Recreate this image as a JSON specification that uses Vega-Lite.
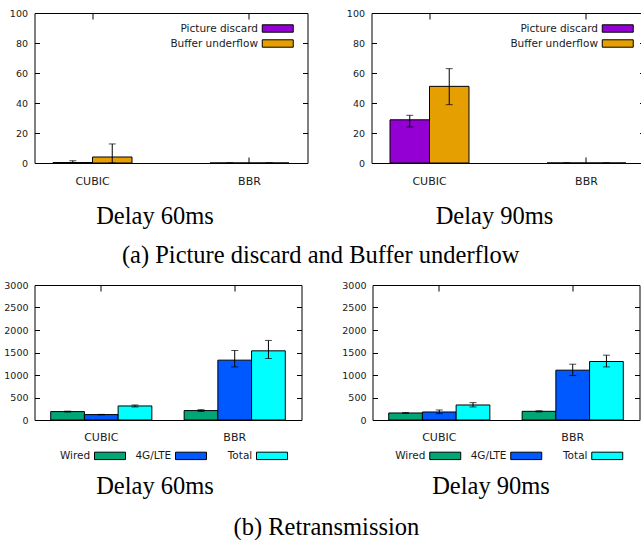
{
  "$schema": "https://vega.github.io/schema/vega-lite/v6.json",
  "padding": {"left": 2.5, "top": 7, "right": 0, "bottom": 0},
  "background": "white",
  "datasets": {
    "top60": [
      {"proto": "CUBIC", "metric": "Picture discard", "v": 0.3, "lo": 0, "hi": 1.5},
      {"proto": "CUBIC", "metric": "Buffer underflow", "v": 4, "lo": 0, "hi": 12.7},
      {"proto": "BBR", "metric": "Picture discard", "v": 0, "lo": 0, "hi": 0},
      {"proto": "BBR", "metric": "Buffer underflow", "v": 0, "lo": 0, "hi": 0}
    ],
    "top90": [
      {"proto": "CUBIC", "metric": "Picture discard", "v": 28.8, "lo": 24, "hi": 31.8},
      {"proto": "CUBIC", "metric": "Buffer underflow", "v": 51.1, "lo": 38.9, "hi": 62.9},
      {"proto": "BBR", "metric": "Picture discard", "v": 0, "lo": 0, "hi": 0},
      {"proto": "BBR", "metric": "Buffer underflow", "v": 0, "lo": 0, "hi": 0}
    ],
    "bot60": [
      {"proto": "CUBIC", "link": "Wired", "v": 187, "lo": 177, "hi": 197},
      {"proto": "CUBIC", "link": "4G/LTE", "v": 120, "lo": 115, "hi": 125},
      {"proto": "CUBIC", "link": "Total", "v": 312, "lo": 290, "hi": 334},
      {"proto": "BBR", "link": "Wired", "v": 209, "lo": 190, "hi": 230},
      {"proto": "BBR", "link": "4G/LTE", "v": 1330, "lo": 1180, "hi": 1545},
      {"proto": "BBR", "link": "Total", "v": 1537, "lo": 1367, "hi": 1768}
    ],
    "bot90": [
      {"proto": "CUBIC", "link": "Wired", "v": 156, "lo": 148, "hi": 164},
      {"proto": "CUBIC", "link": "4G/LTE", "v": 178, "lo": 141, "hi": 223},
      {"proto": "CUBIC", "link": "Total", "v": 334, "lo": 290, "hi": 386},
      {"proto": "BBR", "link": "Wired", "v": 193, "lo": 180, "hi": 206},
      {"proto": "BBR", "link": "4G/LTE", "v": 1107, "lo": 988, "hi": 1240},
      {"proto": "BBR", "link": "Total", "v": 1300, "lo": 1180, "hi": 1441}
    ]
  },
  "resolve": {"scale": {"color": "independent", "x": "independent", "y": "independent", "xOffset": "independent"}, "legend": {"color": "independent"}},
  "columns": 1,
  "align": "none",
  "spacing": 11,
  "concat": [
    {
      "spacing": 37,
      "resolve": {"scale": {"color": "independent", "x": "independent", "y": "independent", "xOffset": "independent"}, "legend": {"color": "independent"}},
      "title": {"text": "(a) Picture discard and Buffer underflow", "orient": "bottom", "anchor": "middle", "dx": -6.5, "offset": 16, "font": "Liberation Serif", "fontSize": 24.5, "fontWeight": "normal", "color": "black"},
      "hconcat": [
        {
          "width": 273, "height": 150,
          "data": {"name": "top60"},
          "resolve": {"axis": {"x": "independent", "y": "independent"}},
          "layer": [
            {
              "mark": {"type": "bar", "stroke": "black", "strokeWidth": 1},
              "encoding": {
                "x": {"field": "proto", "type": "nominal", "sort": ["CUBIC", "BBR"], "scale": {"paddingInner": 0.497, "paddingOuter": 0.118},
                      "axis": {"orient": "bottom", "title": "Delay 60ms", "titleX": 120, "titleY": 60, "titleBaseline": "alphabetic", "tickSize": -6, "labelPadding": 18, "labelAngle": 0, "labelFontSize": 11}},
                "xOffset": {"field": "metric", "type": "nominal", "sort": ["Picture discard", "Buffer underflow"], "scale": {"paddingInner": 0, "paddingOuter": 0}},
                "y": {"field": "v", "type": "quantitative", "scale": {"domain": [0, 100], "nice": false},
                      "axis": {"orient": "left", "title": null, "values": [0, 20, 40, 60, 80, 100], "tickSize": -5, "labelPadding": 12, "format": "d"}},
                "color": {"field": "metric", "type": "nominal", "sort": ["Picture discard", "Buffer underflow"],
                          "scale": {"domain": ["Picture discard", "Buffer underflow"], "range": ["#9400d3", "#e69f00"]},
                          "legend": {"orient": "none", "direction": "vertical", "legendX": 234.75, "legendY": 7, "title": null}}
              }
            },
            {
              "mark": {"type": "rule", "color": "black", "strokeWidth": 1},
              "encoding": {
                "x": {"field": "proto", "type": "nominal", "sort": ["CUBIC", "BBR"], "axis": {"orient": "top", "title": null, "labels": false, "tickSize": -6}},
                "xOffset": {"field": "metric", "type": "nominal", "sort": ["Picture discard", "Buffer underflow"]},
                "y": {"field": "lo", "type": "quantitative", "axis": {"orient": "right", "title": null, "labels": false, "values": [0, 20, 40, 60, 80, 100], "tickSize": -5}},
                "y2": {"field": "hi"}
              }
            },
            {
              "mark": {"type": "tick", "color": "black", "orient": "horizontal", "size": 7, "thickness": 1},
              "encoding": {
                "x": {"field": "proto", "type": "nominal", "sort": ["CUBIC", "BBR"], "axis": null},
                "xOffset": {"field": "metric", "type": "nominal", "sort": ["Picture discard", "Buffer underflow"]},
                "y": {"field": "lo", "type": "quantitative", "axis": null}
              }
            },
            {
              "mark": {"type": "tick", "color": "black", "orient": "horizontal", "size": 7, "thickness": 1},
              "encoding": {
                "x": {"field": "proto", "type": "nominal", "sort": ["CUBIC", "BBR"], "axis": null},
                "xOffset": {"field": "metric", "type": "nominal", "sort": ["Picture discard", "Buffer underflow"]},
                "y": {"field": "hi", "type": "quantitative", "axis": null}
              }
            }
          ]
        },
        {
          "width": 273, "height": 150,
          "data": {"name": "top90"},
          "resolve": {"axis": {"x": "independent", "y": "independent"}},
          "layer": [
            {
              "mark": {"type": "bar", "stroke": "black", "strokeWidth": 1},
              "encoding": {
                "x": {"field": "proto", "type": "nominal", "sort": ["CUBIC", "BBR"], "scale": {"paddingInner": 0.497, "paddingOuter": 0.118},
                      "axis": {"orient": "bottom", "title": "Delay 90ms", "titleX": 122.5, "titleY": 60, "titleBaseline": "alphabetic", "tickSize": -6, "labelPadding": 18, "labelAngle": 0, "labelFontSize": 11}},
                "xOffset": {"field": "metric", "type": "nominal", "sort": ["Picture discard", "Buffer underflow"], "scale": {"paddingInner": 0, "paddingOuter": 0}},
                "y": {"field": "v", "type": "quantitative", "scale": {"domain": [0, 100], "nice": false},
                      "axis": {"orient": "left", "title": null, "values": [0, 20, 40, 60, 80, 100], "tickSize": -5, "labelPadding": 12, "format": "d"}},
                "color": {"field": "metric", "type": "nominal", "sort": ["Picture discard", "Buffer underflow"],
                          "scale": {"domain": ["Picture discard", "Buffer underflow"], "range": ["#9400d3", "#e69f00"]},
                          "legend": {"orient": "none", "direction": "vertical", "legendX": 237.75, "legendY": 7, "title": null}}
              }
            },
            {
              "mark": {"type": "rule", "color": "black", "strokeWidth": 1},
              "encoding": {
                "x": {"field": "proto", "type": "nominal", "sort": ["CUBIC", "BBR"], "axis": {"orient": "top", "title": null, "labels": false, "tickSize": -6}},
                "xOffset": {"field": "metric", "type": "nominal", "sort": ["Picture discard", "Buffer underflow"]},
                "y": {"field": "lo", "type": "quantitative", "axis": {"orient": "right", "title": null, "labels": false, "values": [0, 20, 40, 60, 80, 100], "tickSize": -5}},
                "y2": {"field": "hi"}
              }
            },
            {
              "mark": {"type": "tick", "color": "black", "orient": "horizontal", "size": 7, "thickness": 1},
              "encoding": {
                "x": {"field": "proto", "type": "nominal", "sort": ["CUBIC", "BBR"], "axis": null},
                "xOffset": {"field": "metric", "type": "nominal", "sort": ["Picture discard", "Buffer underflow"]},
                "y": {"field": "lo", "type": "quantitative", "axis": null}
              }
            },
            {
              "mark": {"type": "tick", "color": "black", "orient": "horizontal", "size": 7, "thickness": 1},
              "encoding": {
                "x": {"field": "proto", "type": "nominal", "sort": ["CUBIC", "BBR"], "axis": null},
                "xOffset": {"field": "metric", "type": "nominal", "sort": ["Picture discard", "Buffer underflow"]},
                "y": {"field": "hi", "type": "quantitative", "axis": null}
              }
            }
          ]
        }
      ]
    },
    {
      "spacing": 38,
      "resolve": {"scale": {"color": "independent", "x": "independent", "y": "independent", "xOffset": "independent"}, "legend": {"color": "independent"}},
      "title": {"text": "(b) Retransmission", "orient": "bottom", "anchor": "middle", "dx": 4.5, "offset": 18, "font": "Liberation Serif", "fontSize": 24.5, "fontWeight": "normal", "color": "black"},
      "hconcat": [
        {
          "width": 267, "height": 135,
          "data": {"name": "bot60"},
          "resolve": {"axis": {"x": "independent", "y": "independent"}},
          "layer": [
            {
              "mark": {"type": "bar", "stroke": "black", "strokeWidth": 1},
              "encoding": {
                "x": {"field": "proto", "type": "nominal", "sort": ["CUBIC", "BBR"], "scale": {"paddingInner": 0.242, "paddingOuter": 0.1215},
                      "axis": {"orient": "bottom", "title": "Delay 60ms", "titleX": 120, "titleY": 73, "titleBaseline": "alphabetic", "tickSize": -6, "labelPadding": 17, "labelAngle": 0, "labelFontSize": 11}},
                "xOffset": {"field": "link", "type": "nominal", "sort": ["Wired", "4G/LTE", "Total"], "scale": {"paddingInner": 0, "paddingOuter": 0}},
                "y": {"field": "v", "type": "quantitative", "scale": {"domain": [0, 3000], "nice": false},
                      "axis": {"orient": "left", "title": null, "values": [0, 500, 1000, 1500, 2000, 2500, 3000], "tickSize": -5, "labelPadding": 11.5, "format": "d"}},
                "color": {"field": "link", "type": "nominal", "sort": ["Wired", "4G/LTE", "Total"],
                          "scale": {"domain": ["Wired", "4G/LTE", "Total"], "range": ["#00a676", "#0058ff", "#00ffff"]},
                          "legend": {"orient": "none", "direction": "horizontal", "columns": 3, "gridAlign": "all", "columnPadding": 7, "legendX": 67, "legendY": 162, "title": null}}
              }
            },
            {
              "mark": {"type": "rule", "color": "black", "strokeWidth": 1},
              "encoding": {
                "x": {"field": "proto", "type": "nominal", "sort": ["CUBIC", "BBR"], "axis": {"orient": "top", "title": null, "labels": false, "tickSize": -6}},
                "xOffset": {"field": "link", "type": "nominal", "sort": ["Wired", "4G/LTE", "Total"]},
                "y": {"field": "lo", "type": "quantitative", "axis": {"orient": "right", "title": null, "labels": false, "values": [0, 500, 1000, 1500, 2000, 2500, 3000], "tickSize": -5}},
                "y2": {"field": "hi"}
              }
            },
            {
              "mark": {"type": "tick", "color": "black", "orient": "horizontal", "size": 7, "thickness": 1},
              "encoding": {
                "x": {"field": "proto", "type": "nominal", "sort": ["CUBIC", "BBR"], "axis": null},
                "xOffset": {"field": "link", "type": "nominal", "sort": ["Wired", "4G/LTE", "Total"]},
                "y": {"field": "lo", "type": "quantitative", "axis": null}
              }
            },
            {
              "mark": {"type": "tick", "color": "black", "orient": "horizontal", "size": 7, "thickness": 1},
              "encoding": {
                "x": {"field": "proto", "type": "nominal", "sort": ["CUBIC", "BBR"], "axis": null},
                "xOffset": {"field": "link", "type": "nominal", "sort": ["Wired", "4G/LTE", "Total"]},
                "y": {"field": "hi", "type": "quantitative", "axis": null}
              }
            }
          ]
        },
        {
          "width": 267, "height": 135,
          "data": {"name": "bot90"},
          "resolve": {"axis": {"x": "independent", "y": "independent"}},
          "layer": [
            {
              "mark": {"type": "bar", "stroke": "black", "strokeWidth": 1},
              "encoding": {
                "x": {"field": "proto", "type": "nominal", "sort": ["CUBIC", "BBR"], "scale": {"paddingInner": 0.242, "paddingOuter": 0.1215},
                      "axis": {"orient": "bottom", "title": "Delay 90ms", "titleX": 118, "titleY": 73, "titleBaseline": "alphabetic", "tickSize": -6, "labelPadding": 17, "labelAngle": 0, "labelFontSize": 11}},
                "xOffset": {"field": "link", "type": "nominal", "sort": ["Wired", "4G/LTE", "Total"], "scale": {"paddingInner": 0, "paddingOuter": 0}},
                "y": {"field": "v", "type": "quantitative", "scale": {"domain": [0, 3000], "nice": false},
                      "axis": {"orient": "left", "title": null, "values": [0, 500, 1000, 1500, 2000, 2500, 3000], "tickSize": -5, "labelPadding": 11.5, "format": "d"}},
                "color": {"field": "link", "type": "nominal", "sort": ["Wired", "4G/LTE", "Total"],
                          "scale": {"domain": ["Wired", "4G/LTE", "Total"], "range": ["#00a676", "#0058ff", "#00ffff"]},
                          "legend": {"orient": "none", "direction": "horizontal", "columns": 3, "gridAlign": "all", "columnPadding": 7, "legendX": 64.25, "legendY": 162, "title": null}}
              }
            },
            {
              "mark": {"type": "rule", "color": "black", "strokeWidth": 1},
              "encoding": {
                "x": {"field": "proto", "type": "nominal", "sort": ["CUBIC", "BBR"], "axis": {"orient": "top", "title": null, "labels": false, "tickSize": -6}},
                "xOffset": {"field": "link", "type": "nominal", "sort": ["Wired", "4G/LTE", "Total"]},
                "y": {"field": "lo", "type": "quantitative", "axis": {"orient": "right", "title": null, "labels": false, "values": [0, 500, 1000, 1500, 2000, 2500, 3000], "tickSize": -5}},
                "y2": {"field": "hi"}
              }
            },
            {
              "mark": {"type": "tick", "color": "black", "orient": "horizontal", "size": 7, "thickness": 1},
              "encoding": {
                "x": {"field": "proto", "type": "nominal", "sort": ["CUBIC", "BBR"], "axis": null},
                "xOffset": {"field": "link", "type": "nominal", "sort": ["Wired", "4G/LTE", "Total"]},
                "y": {"field": "lo", "type": "quantitative", "axis": null}
              }
            },
            {
              "mark": {"type": "tick", "color": "black", "orient": "horizontal", "size": 7, "thickness": 1},
              "encoding": {
                "x": {"field": "proto", "type": "nominal", "sort": ["CUBIC", "BBR"], "axis": null},
                "xOffset": {"field": "link", "type": "nominal", "sort": ["Wired", "4G/LTE", "Total"]},
                "y": {"field": "hi", "type": "quantitative", "axis": null}
              }
            }
          ]
        }
      ]
    }
  ],
  "config": {
    "view": {"stroke": "black", "strokeWidth": 1},
    "axis": {"grid": false, "domain": false, "minExtent": 0, "tickColor": "black", "tickWidth": 1, "labelFont": "DejaVu Sans", "labelFontSize": 9.5, "labelColor": "#1a1a1a",
             "titleFont": "Liberation Serif", "titleFontSize": 24.5, "titleFontWeight": "normal", "titleColor": "black"},
    "legend": {"padding": 0, "labelFont": "DejaVu Sans", "labelFontSize": 10.5, "labelColor": "#1a1a1a", "labelAlign": "right", "labelOffset": -28.25,
               "symbolType": "M-2,-0.48L2,-0.48L2,0.48L-2,0.48Z", "symbolSize": 240, "symbolStrokeColor": "black", "symbolStrokeWidth": 1, "symbolOpacity": 1, "rowPadding": 0, "columnPadding": 0},
    "title": {"font": "Liberation Serif"}
  }
}
